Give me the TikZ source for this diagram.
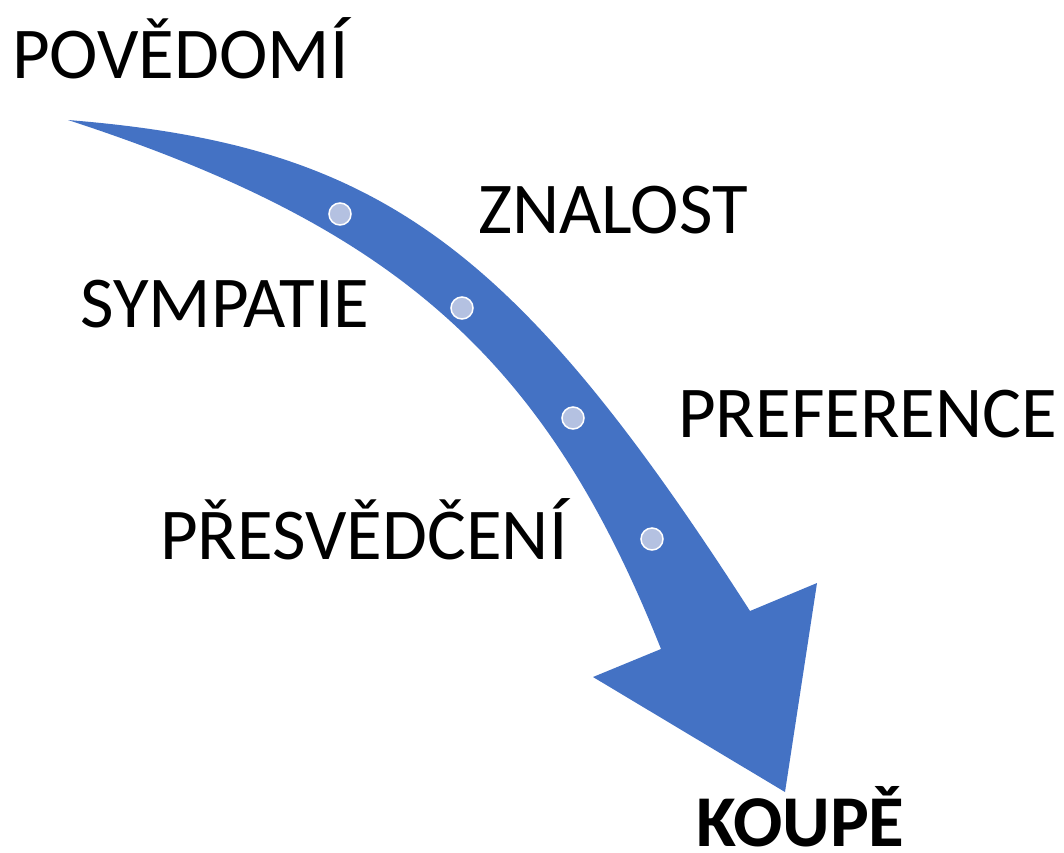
\documentclass[tikz,border=0pt]{standalone}
\usepackage{fontspec}
\setmainfont{Carlito}
\definecolor{arrowblue}{HTML}{4472C4}
\definecolor{dotfill}{HTML}{B4C1E1}
\begin{document}
\begin{tikzpicture}[x=1pt,y=-1pt,
  lbl/.style={anchor=base west,inner sep=0pt,font=\fontsize{73}{80}\selectfont},
  dotmark/.style={circle,fill=dotfill,draw=white,line width=1.5pt,minimum size=22pt,inner sep=0pt}]
\useasboundingbox (0,0) rectangle (1064,852);
% curved arrow
\fill[arrowblue] (68,120)
  .. controls (376.8,144.8) and (513.2,242.8) .. (750,611)
  -- (817,583) -- (785,792) -- (593,677) -- (661,649)
  .. controls (546,359.7) and (397.7,227.5) .. (68,120)
  -- cycle;
% dots
\node[dotmark] (d1) at (340,214) {};
\node[dotmark] (d2) at (462,308) {};
\node[dotmark] (d3) at (573,418) {};
\node[dotmark] (d4) at (652,539) {};
% labels
\node[lbl] (povedomi) at (12,78) {POVĚDOMÍ};
\node[lbl] (znalost) at (478,233) {ZNALOST};
\node[lbl] (sympatie) at (80,327) {SYMPATIE};
\node[lbl] (preference) at (678,437) {PREFERENCE};
\node[lbl] (presvedceni) at (160,559) {PŘESVĚDČENÍ};
\node[lbl,font=\fontsize{73}{80}\selectfont\bfseries] (koupe) at (696,846) {KOUPĚ};
\end{tikzpicture}
\end{document}
